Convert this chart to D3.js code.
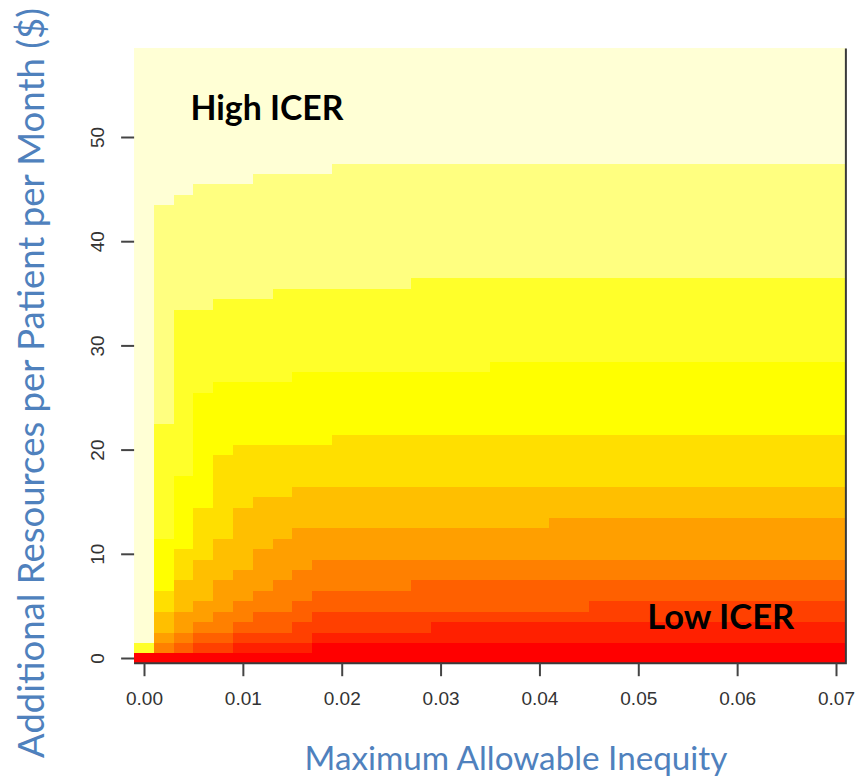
<!DOCTYPE html>
<html>
<head>
<meta charset="utf-8">
<script src="https://cdn.jsdelivr.net/npm/d3@7/dist/d3.min.js"></script>
<style>
  html, body { margin: 0; padding: 0; background: #fff; }
  svg { display: block; }
</style>
</head>
<body>
<svg id="chart" width="861" height="780"></svg>
<script>
// ---------------- DATA ----------------
// R heat.colors(12): level 0 (lowest ICER) ... level 11 (highest ICER)
const heatColors = ["#FF0000","#FF2000","#FF4000","#FF6000","#FF8000","#FF9F00",
                    "#FFBF00","#FFDF00","#FFFF00","#FFFF2A","#FFFF80","#FFFFD5"];

// grid columns: Maximum Allowable Inequity
const inequity = [0.000,0.002,0.004,0.006,0.008,0.010,0.012,0.014,0.016,0.018,
                  0.020,0.022,0.024,0.026,0.028,0.030,0.032,0.034,0.036,0.038,
                  0.040,0.042,0.044,0.046,0.048,0.050,0.052,0.054,0.056,0.058,
                  0.060,0.062,0.064,0.066,0.068,0.070];

// grid rows: Additional Resources per Patient per Month ($)
const resources = [0,1,2,3,4,5,6,7,8,9,10,11,12,13,14,15,16,17,18,19,
                   20,21,22,23,24,25,26,27,28,29,30,31,32,33,34,35,36,37,38,39,
                   40,41,42,43,44,45,46,47,48,49,50,51,52,53,54,55,56,57,58];

// For each colour level k (1..11): the lowest resource row (per inequity column)
// whose ICER level is >= k
const level1Start  = [1,1,1,1,1,1,1,1,1,2,2,2,2,2,2,2,2,2,2,2,2,2,2,2,2,2,2,2,2,2,2,2,2,2,2,2];
const level2Start  = [1,1,1,1,1,2,2,2,2,3,3,3,3,3,3,4,4,4,4,4,4,4,4,4,4,4,4,4,4,4,4,4,4,4,4,4];
const level3Start  = [1,1,1,2,2,3,3,3,4,5,5,5,5,5,5,5,5,5,5,5,5,5,5,6,6,6,6,6,6,6,6,6,6,6,6,6];
const level4Start  = [1,1,2,3,3,4,5,5,6,7,7,7,7,7,8,8,8,8,8,8,8,8,8,8,8,8,8,8,8,8,8,8,8,8,8,8];
const level5Start  = [1,2,3,4,5,6,7,8,9,10,10,10,10,10,10,10,10,10,10,10,10,10,10,10,10,10,10,10,10,10,10,10,10,10,10,10];
const level6Start  = [1,3,5,6,8,9,11,12,13,13,13,13,13,13,13,13,13,13,13,13,13,14,14,14,14,14,14,14,14,14,14,14,14,14,14,14];
const level7Start  = [1,5,8,10,12,15,16,16,17,17,17,17,17,17,17,17,17,17,17,17,17,17,17,17,17,17,17,17,17,17,17,17,17,17,17,17];
const level8Start  = [1,7,11,15,20,21,21,21,21,21,22,22,22,22,22,22,22,22,22,22,22,22,22,22,22,22,22,22,22,22,22,22,22,22,22,22];
const level9Start  = [1,12,18,26,27,27,27,27,28,28,28,28,28,28,28,28,28,28,29,29,29,29,29,29,29,29,29,29,29,29,29,29,29,29,29,29];
const level10Start = [2,23,34,34,35,35,35,36,36,36,36,36,36,36,37,37,37,37,37,37,37,37,37,37,37,37,37,37,37,37,37,37,37,37,37,37];
const level11Start = [2,44,45,46,46,46,47,47,47,47,48,48,48,48,48,48,48,48,48,48,48,48,48,48,48,48,48,48,48,48,48,48,48,48,48,48];

const xTicks = [0.00,0.01,0.02,0.03,0.04,0.05,0.06,0.07];
const xTickLabels = ["0.00","0.01","0.02","0.03","0.04","0.05","0.06","0.07"];
const yTicks = [0,10,20,30,40,50];
const yTickLabels = ["0","10","20","30","40","50"];

const xTitle = "Maximum Allowable Inequity";
const yTitle = "Additional Resources per Patient per Month ($)";
const annotations = [
  {text: "High ICER", x: 0.0047, y: 51.6, width: 153},
  {text: "Low ICER",  x: 0.0509, y: 2.8,  width: 147}
];

// ---------------- CHART ----------------
const levelStarts = [level1Start, level2Start, level3Start, level4Start, level5Start,
                     level6Start, level7Start, level8Start, level9Start, level10Start, level11Start];

const svg = d3.select("#chart");
const x = d3.scaleLinear().domain([0, 0.07]).range([144, 836]);
const y = d3.scaleLinear().domain([0, 50]).range([658, 137]);
const halfW = (inequity[1] - inequity[0]) / 2;
const halfH = (resources[1] - resources[0]) / 2;

// level of each cell, then merge vertical runs of the same level per column
const runs = [];
inequity.forEach((iv, c) => {
  let runStart = null, runLevel = null;
  resources.forEach((rv, r) => {
    const lvl = levelStarts.filter(a => a[c] <= rv).length;
    if (runLevel === null) { runStart = rv; runLevel = lvl; }
    else if (lvl !== runLevel) {
      runs.push({x: iv, y0: runStart, y1: resources[r - 1], level: runLevel});
      runStart = rv; runLevel = lvl;
    }
  });
  runs.push({x: iv, y0: runStart, y1: resources[resources.length - 1], level: runLevel});
});

svg.append("g")
  .attr("shape-rendering", "crispEdges")
  .selectAll("rect")
  .data(runs)
  .join("rect")
  .attr("x", d => x(d.x - halfW))
  .attr("width", d => x(d.x + halfW) - x(d.x - halfW) + 0.6)
  .attr("y", d => y(d.y1 + halfH))
  .attr("height", d => y(d.y0 - halfH) - y(d.y1 + halfH) + 0.6)
  .attr("fill", d => heatColors[d.level]);

const x0 = x(inequity[0] - halfW), x1 = x(inequity[inequity.length - 1] + halfW);
const yBottom = y(resources[0] - halfH), yTop = y(resources[resources.length - 1] + halfH);

// frame: bottom and right edges
svg.append("path")
  .attr("d", `M${x0},${yBottom}H${x1}V${yTop}`)
  .attr("fill", "none").attr("stroke", "#3a3a3a").attr("stroke-width", 2);

// x axis
const gx = svg.append("g")
  .attr("transform", `translate(0,${yBottom})`)
  .call(d3.axisBottom(x).tickValues(xTicks)
        .tickFormat((d, i) => xTickLabels[i]).tickSize(13).tickPadding(15));
gx.select(".domain").remove();
gx.selectAll(".tick line").attr("stroke", "#444").attr("stroke-width", 2);
gx.selectAll(".tick text")
  .attr("font-family", "'Liberation Sans', Arial, sans-serif")
  .attr("font-size", 19).attr("fill", "#333");

// y axis
const gy = svg.append("g")
  .attr("transform", `translate(${x0},0)`)
  .call(d3.axisLeft(y).tickValues(yTicks)
        .tickFormat((d, i) => yTickLabels[i]).tickSize(13));
gy.select(".domain").remove();
gy.selectAll(".tick line").attr("stroke", "#444").attr("stroke-width", 2);
gy.selectAll(".tick text")
  .attr("font-family", "'Liberation Sans', Arial, sans-serif")
  .attr("font-size", 19).attr("fill", "#333")
  .attr("transform", "rotate(-90)")
  .attr("text-anchor", "middle")
  .attr("x", 0).attr("dy", 0).attr("y", -30);

function fitWidth(sel, target) {
  const w = sel.node().getComputedTextLength();
  const fs = parseFloat(sel.attr("font-size"));
  sel.attr("font-size", fs * target / w);
}

// annotations
annotations.forEach(a => {
  const t = svg.append("text")
    .attr("x", x(a.x)).attr("y", y(a.y))
    .attr("font-family", "Lato, 'Open Sans', sans-serif")
    .attr("font-weight", "bold").attr("font-size", 34).attr("fill", "#000")
    .text(a.text);
  fitWidth(t, a.width);
});

// axis titles
const xt = svg.append("text")
  .attr("x", 516).attr("y", 770)
  .attr("text-anchor", "middle")
  .attr("font-family", "Lato, 'Open Sans', sans-serif")
  .attr("font-size", 31).attr("fill", "#4F81BD")
  .text(xTitle);
fitWidth(xt, 423);

const yt = svg.append("text")
  .attr("transform", "translate(44,383) rotate(-90)")
  .attr("text-anchor", "middle")
  .attr("font-family", "Lato, 'Open Sans', sans-serif")
  .attr("font-size", 31).attr("fill", "#4F81BD")
  .text(yTitle);
fitWidth(yt, 750);
</script>
</body>
</html>
